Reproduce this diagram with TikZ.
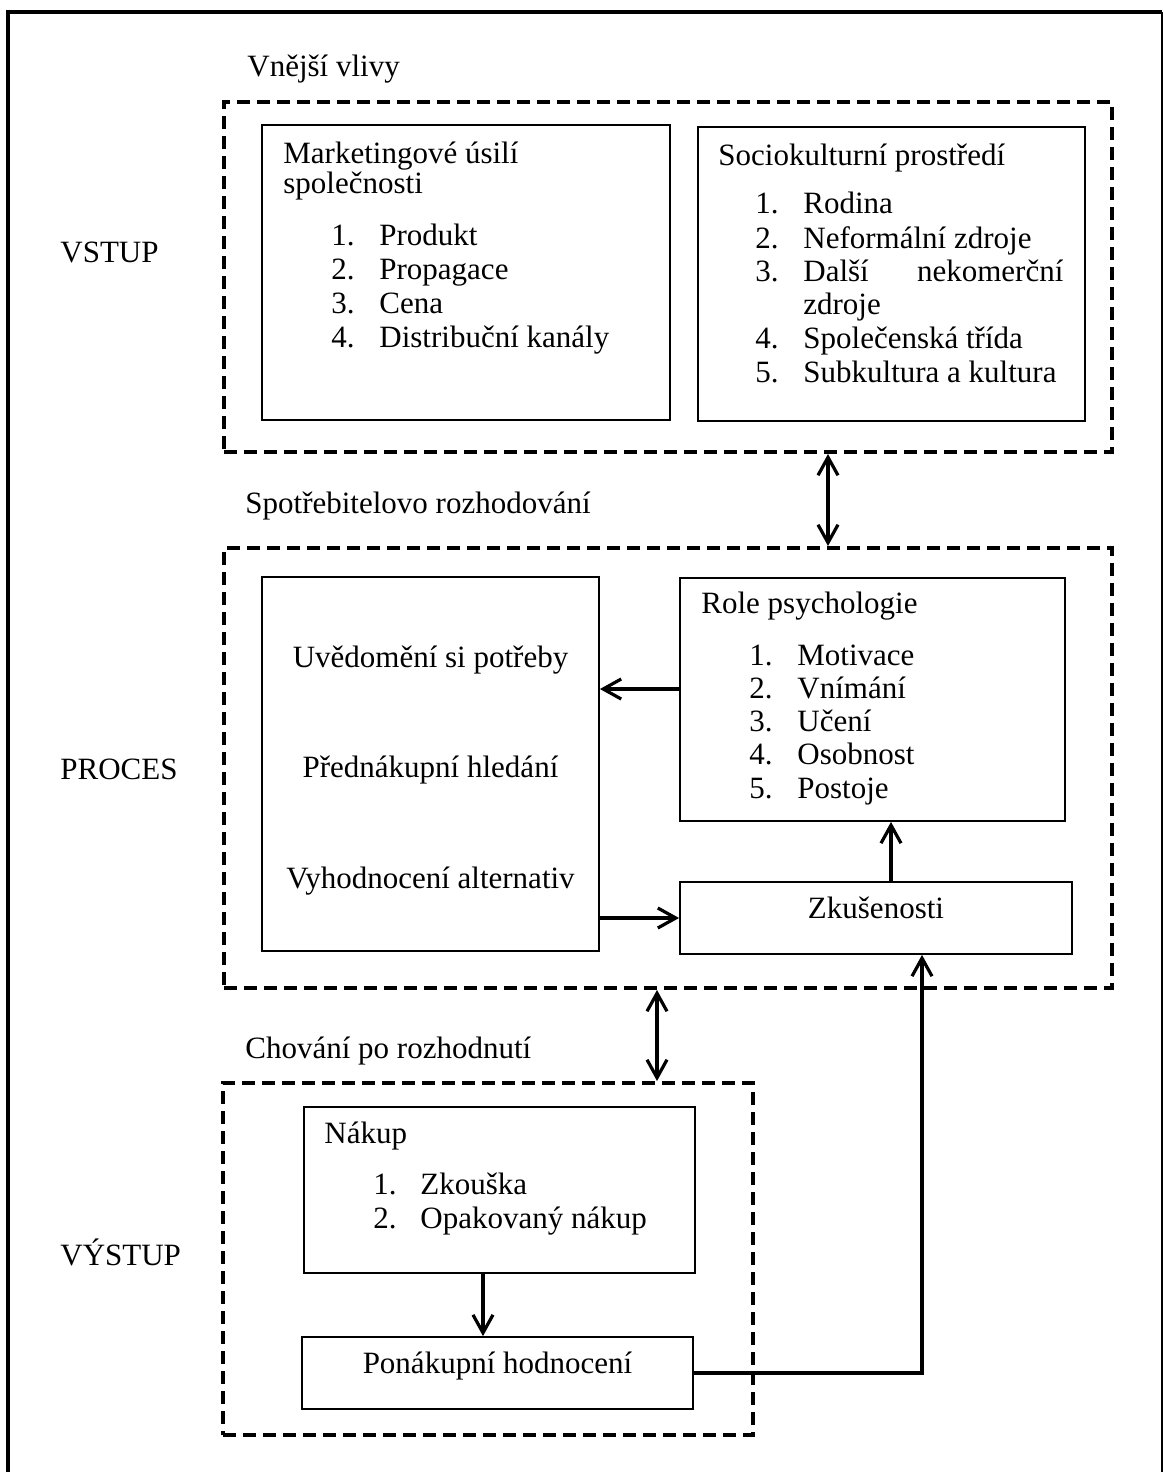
\documentclass[tikz,border=0pt]{standalone}
\usepackage{fontspec}
\setmainfont{Liberation Serif}
\usetikzlibrary{arrows.meta}

\begin{document}
\begin{tikzpicture}[x=0.5pt,y=-0.5pt,>={Straight Barb[length=9pt,width=10pt]}]
\tikzset{txt style/.style = {anchor=base west, inner sep=0pt, font=\fontsize{15.5}{18}\selectfont},
box style/.style = {draw, line width=0.9pt, inner sep=0pt},
dash style/.style = {draw, line width=2pt, dash pattern=on 6.5pt off 3.5pt, inner sep=0pt},
arr style/.style = {line width=1.6pt, ->},
darr style/.style = {line width=1.6pt, <->}}
\useasboundingbox (0,0) rectangle (1163,1472);
\draw[line width=2.3pt] (8,1472) -- (8,12) -- (1162,12);
\draw[line width=0.7pt] (1162,12) -- (1162,1472);
\node[dash style, minimum width=444pt, minimum height=175pt] (vv) at (668,277) {};
\node[box style, minimum width=204pt, minimum height=147.5pt] (mkt) at (466,272.5) {};
\node[box style, minimum width=193.5pt, minimum height=147pt] (soc) at (891.5,274) {};
\node[dash style, minimum width=444pt, minimum height=220pt] (sr) at (668,768) {};
\node[box style, minimum width=168.5pt, minimum height=187pt] (roz) at (430.5,764) {};
\node[box style, minimum width=192.5pt, minimum height=121.5pt] (psy) at (872.5,699.5) {};
\node[box style, minimum width=196pt, minimum height=36pt] (zku) at (876,918) {};
\node[dash style, minimum width=265pt, minimum height=176pt] (po) at (488,1259) {};
\node[box style, minimum width=195.5pt, minimum height=83pt] (nak) at (499.5,1190) {};
\node[box style, minimum width=195.5pt, minimum height=36pt] (hod) at (497.5,1373) {};
\node[txt style] (vvt) at (247,76) {Vnější vlivy};
\node[txt style] (srt) at (245,513) {Spotřebitelovo rozhodování};
\node[txt style] (pot) at (245,1058) {Chování po rozhodnutí};
\node[txt style] (vstup) at (60,262) {VSTUP};
\node[txt style] (proces) at (60,779) {PROCES};
\node[txt style] (vystup) at (60,1265) {VÝSTUP};
\node[txt style] (mkt1) at (283,163) {Marketingové úsilí};
\node[txt style] (mkt2) at (283,193) {společnosti};
\foreach \t [count=\k] in {Produkt,Propagace,Cena,Distribuční kanály}{
  \node[txt style] (mktn\k) at (331,{211+34*\k}) {\k.};
  \node[txt style] (mkti\k) at (379,{211+34*\k}) {\t};
}
\node[txt style] (soct) at (718,165) {Sociokulturní prostředí};
\foreach \k/\y/\t in {1/213/Rodina,2/248/Neformální zdroje,3/281/{\makebox[130pt][s]{Další nekomerční}},4/348/Společenská třída,5/382/Subkultura a kultura}{
  \node[txt style] (socn\k) at (755,\y) {\k.};
  \node[txt style] (soci\k) at (803,\y) {\t};
}
\node[txt style] (socz) at (803,314) {zdroje};
\node[txt style] (psyt) at (701,613) {Role psychologie};
\foreach \t [count=\k] in {Motivace,Vnímání,Učení,Osobnost,Postoje}{
  \node[txt style] (psyn\k) at (749,{631.7+33.3*\k}) {\k.};
  \node[txt style] (psyi\k) at (797,{631.7+33.3*\k}) {\t};
}
\node[txt style, anchor=base] (roz1) at (430.5,667) {Uvědomění si potřeby};
\node[txt style, anchor=base] (roz2) at (430.5,777) {Přednákupní hledání};
\node[txt style, anchor=base] (roz3) at (430.5,888) {Vyhodnocení alternativ};
\node[txt style, anchor=base] (zkut) at (zku.center) {Zkušenosti};
\node[txt style] (nakt) at (324,1143) {Nákup};
\foreach \t [count=\k] in {Zkouška,Opakovaný nákup}{
  \node[txt style] (nakn\k) at (373,{1160+34*\k}) {\k.};
  \node[txt style] (naki\k) at (420,{1160+34*\k}) {\t};
}
\node[txt style, anchor=base] (hodt) at (hod.center) {Ponákupní hodnocení};
\coordinate (k1) at (828,0);
\coordinate (k2) at (657,0);
\coordinate (k3) at (0,689);
\coordinate (k4) at (891,0);
\coordinate (k5) at (483,0);
\coordinate (k6) at (922,0);
\draw[darr style] (vv.south -| k1) -- (sr.north -| k1);
\draw[darr style] (sr.south -| k2) -- (po.north -| k2);
\draw[arr style] (psy.west |- k3) -- (roz.east |- k3);
\draw[arr style] (roz.east |- zku.west) -- (zku.west);
\draw[arr style] (zku.north -| k4) -- (psy.south -| k4);
\draw[arr style] (nak.south -| k5) -- (hod.north -| k5);
\draw[arr style] (hod.east) -| (zku.south -| k6);
\end{tikzpicture}
\end{document}
